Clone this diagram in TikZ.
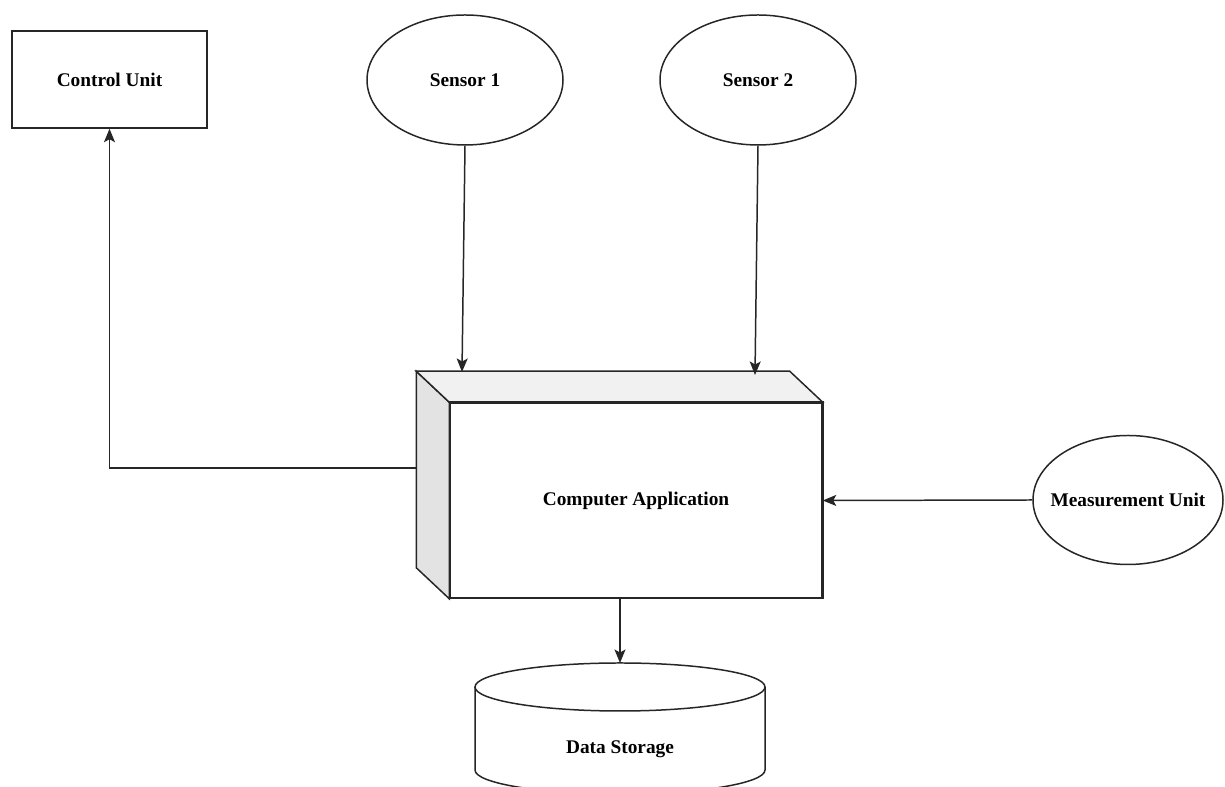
\documentclass[tikz,border=0pt]{standalone}
\usepackage{fontspec}
\setmainfont{Liberation Serif}
\usetikzlibrary{arrows.meta,shapes.geometric}

\begin{document}
\begin{tikzpicture}[
  every node/.style={font=\fontsize{11}{13}\selectfont\bfseries},
  line/.style={draw=black!85,line width=0.85pt},
  arrow/.style={line,-{Stealth[length=0.27cm,width=0.22cm,inset=0.06cm]}},
  unit/.style={line,rectangle,minimum width=3.9cm,minimum height=1.94cm},
  sensor/.style={line,ellipse,inner sep=0pt,minimum width=3.92cm,minimum height=2.6cm},
  appbox/.style={line,fill=white,rectangle,minimum width=7.44cm,minimum height=3.9cm}]
\useasboundingbox (0,0) rectangle (24.5,15.74);

\node[unit] (cu) at (2.19,14.15) {Control Unit};
\node[sensor] (s1) at (9.3,14.14) {Sensor 1};
\node[sensor] (s2) at (15.16,14.14) {Sensor 2};
\node[sensor,minimum width=3.8cm,minimum height=2.58cm] (mu) at (22.56,5.74) {\makebox[0pt]{Measurement Unit}};

\node[appbox] (app) at (12.72,5.73) {Computer Application};
\draw[line,fill=gray!22] (app.north west) -- ([shift={(-0.66,0.62)}]app.north west)
  -- ([shift={(-0.66,0.62)}]app.south west) -- (app.south west) -- cycle;
\draw[line,fill=gray!11] (app.north west) -- ([shift={(-0.66,0.62)}]app.north west)
  -- ([shift={(-0.66,0.62)}]app.north east) -- (app.north east) -- cycle;
\draw[line] (app.south west) rectangle (app.north east);

\draw[line] (9.5,2.0) -- (9.5,0.34) arc[start angle=180,end angle=360,x radius=2.9cm,y radius=0.48cm]
  -- (15.3,2.0);
\draw[line] (12.4,2.0) ellipse[x radius=2.9cm,y radius=0.48cm];
\node (ds) at (12.4,0.76) {Data Storage};
\coordinate (dstop) at (12.4,2.48);

\coordinate (t1) at (9.24,8.30);
\coordinate (t2) at (15.1,8.24);
\coordinate (side) at (8.34,6.38);

\draw[arrow] (s1.south) -- (t1);
\draw[arrow] (s2.south) -- (t2);
\draw[arrow] (mu.west) -- (app.east);
\draw[arrow] (side) -| (cu.south);
\draw[arrow] (app.south -| dstop) -- (dstop);
\end{tikzpicture}
\end{document}
